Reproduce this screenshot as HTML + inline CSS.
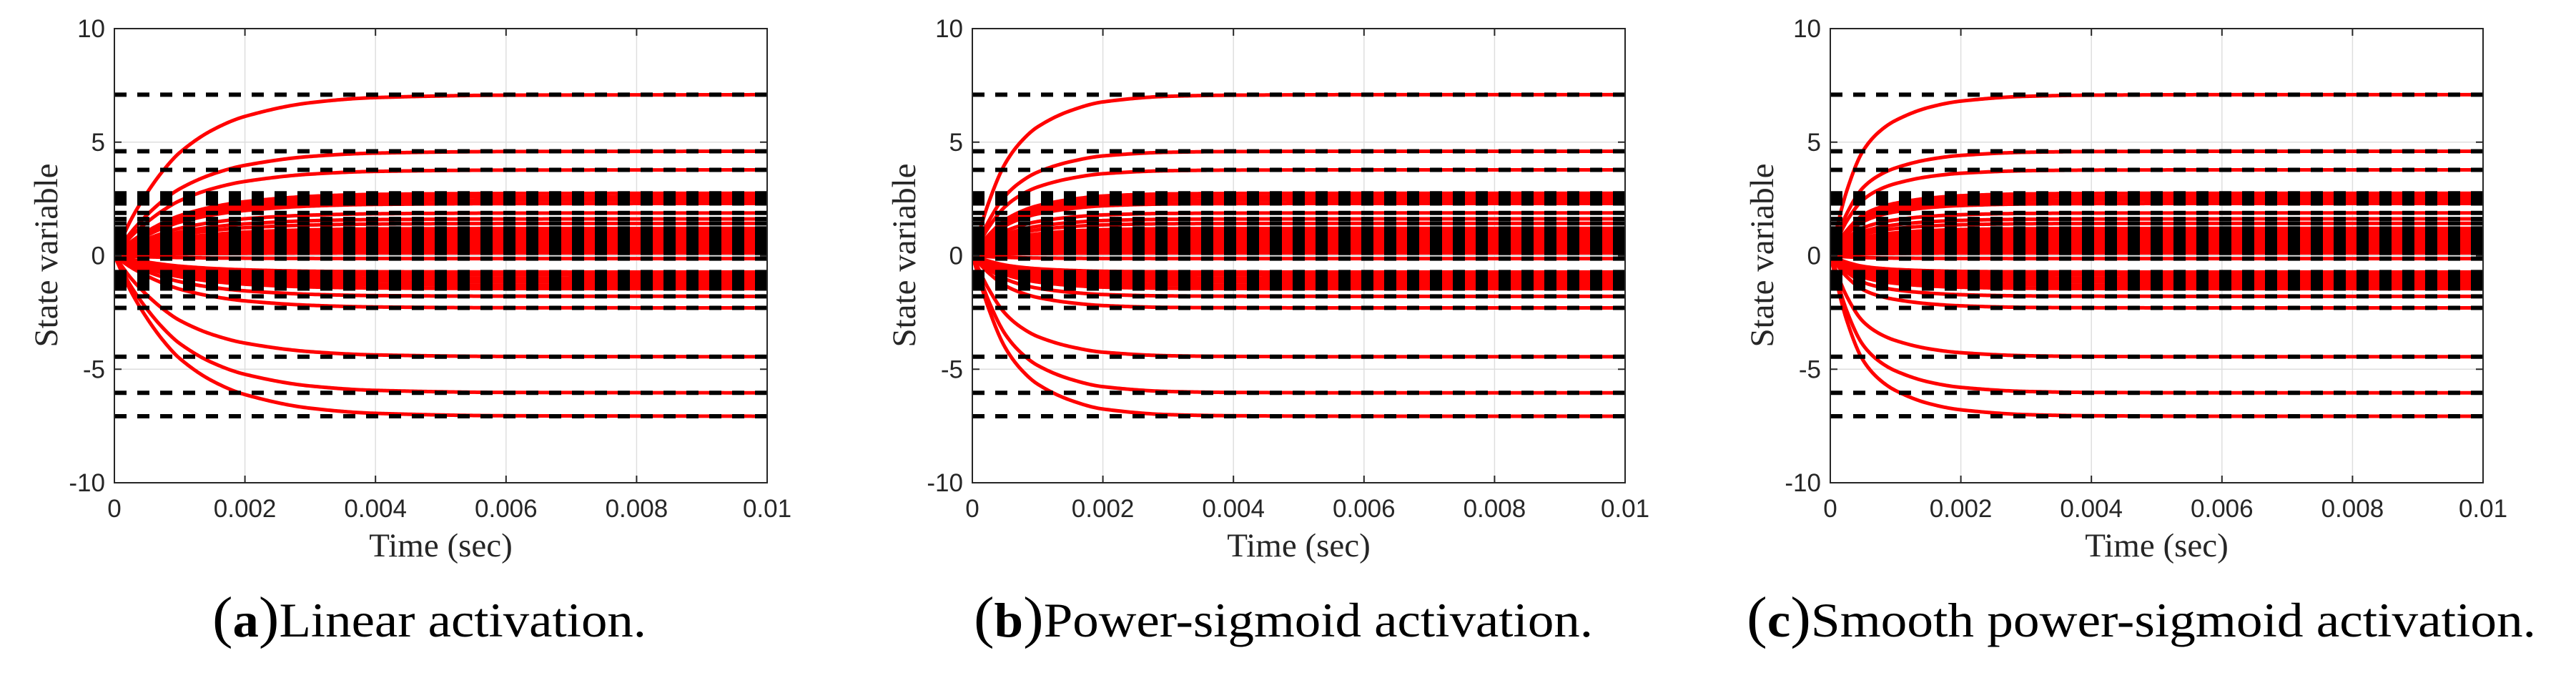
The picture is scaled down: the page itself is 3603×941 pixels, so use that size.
<!DOCTYPE html>
<html><head><meta charset="utf-8"><style>
html,body{margin:0;padding:0;background:#fff;}
svg{display:block;}
text{font-family:"Liberation Sans",sans-serif;}
.serif{font-family:"Liberation Serif",serif;}
</style></head><body>
<svg id="fig" width="3603" height="941" viewBox="0 0 3603 941" xmlns="http://www.w3.org/2000/svg"></svg>
<script>
const xTicks = [0, 0.002, 0.004, 0.006, 0.008, 0.01];
const xTickLabels = ["0", "0.002", "0.004", "0.006", "0.008", "0.01"];
const yTicks = [-10, -5, 0, 5, 10];
const yTickLabels = ["-10", "-5", "0", "5", "10"];
const equilibria = [7.09, 4.6, 3.78, 2.75, 2.6, 2.45, 2.3, 1.88, 1.62, 1.42, 1.2, 1.1, 1.0, 0.9, 0.8, 0.7, 0.6, 0.5, 0.4, 0.3, 0.2, 0.12, -0.13, -0.72, -0.85, -1.0, -1.15, -1.3, -1.45, -1.79, -2.3, -4.45, -6.04, -7.07];
const timeSamples = [0, 0.00025, 0.0005, 0.00075, 0.001, 0.0015, 0.002, 0.003, 0.004, 0.006, 0.01];
const fracLinear = [0, 0.22, 0.39, 0.53, 0.64, 0.78, 0.865, 0.95, 0.982, 0.997, 1.0];
const fracPower = [0, 0.33, 0.57, 0.71, 0.8, 0.9, 0.955, 0.99, 0.997, 1.0, 1.0];
const fracSmooth = [0, 0.4, 0.65, 0.77, 0.84, 0.92, 0.96, 0.99, 0.997, 1.0, 1.0];

const NS = "http://www.w3.org/2000/svg";
const svg = document.getElementById('fig');
function mk(tag, attrs, parent) {
  const e = document.createElementNS(NS, tag);
  for (const k in attrs) e.setAttribute(k, attrs[k]);
  (parent || svg).appendChild(e);
  return e;
}
// monotone cubic (Fritsch–Carlson) interpolation
function monotone(xsArr, ysArr) {
  const n = xsArr.length, d = [], m = new Array(n);
  for (let i = 0; i < n - 1; i++) d.push((ysArr[i + 1] - ysArr[i]) / (xsArr[i + 1] - xsArr[i]));
  m[0] = d[0]; m[n - 1] = d[n - 2];
  for (let i = 1; i < n - 1; i++) m[i] = (d[i - 1] * d[i] <= 0) ? 0 : 2 / (1 / d[i - 1] + 1 / d[i]);
  return function (x) {
    let i = 0;
    while (i < n - 2 && x > xsArr[i + 1]) i++;
    const h = xsArr[i + 1] - xsArr[i], s = (x - xsArr[i]) / h;
    const h00 = 2*s*s*s - 3*s*s + 1, h10 = s*s*s - 2*s*s + s, h01 = -2*s*s*s + 3*s*s, h11 = s*s*s - s*s;
    return h00 * ysArr[i] + h10 * h * m[i] + h01 * ysArr[i + 1] + h11 * h * m[i + 1];
  };
}
const panels = [
  {left:160, frac:fracLinear, id:'a', label:'Linear activation.', cx0:297, cx1:904},
  {left:1360, frac:fracPower, id:'b', label:'Power-sigmoid activation.', cx0:1362, cx1:2228},
  {left:2560, frac:fracSmooth, id:'c', label:'Smooth power-sigmoid activation.', cx0:2443, cx1:3547}
];
const W = 913, TOP = 40, BOT = 675;
const defs = mk('defs', {});
panels.forEach(p => {
  const L = p.left, R = L + W;
  const xs = t => L + (t / 0.01) * W;
  const ys = v => BOT - (v + 10) / 20 * (BOT - TOP);
  const f = monotone(timeSamples, p.frac);
  const g = mk('g', {});
  
  
  const cp = mk('clipPath', {id: 'clip' + p.id}, defs);
  mk('rect', {x: L, y: TOP, width: W, height: BOT - TOP}, cp);
  xTicks.forEach(t => {
    const l = mk('line', {x1: xs(t), x2: xs(t), y1: TOP, y2: BOT, stroke: '#dedede', 'stroke-width': 1.5}, g);
    
    
  });
  yTicks.forEach(v => {
    const l = mk('line', {x1: L, x2: R, y1: ys(v), y2: ys(v), stroke: '#dedede', 'stroke-width': 1.5}, g);
    
    
  });
  const plot = mk('g', {'clip-path': 'url(#clip' + p.id + ')'}, g);
  equilibria.forEach(v => {
    let d = '';
    for (let k = 0; k <= 400; k++) {
      const t = 0.01 * k / 400;
      d += (k ? 'L' : 'M') + xs(t).toFixed(2) + ',' + ys(v * f(t)).toFixed(2);
    }
    const path = mk('path', {d: d, fill: 'none', stroke: '#ff0000', 'stroke-width': 5, 'stroke-linejoin': 'round'}, plot);
    
    
  });
  equilibria.forEach(v => {
    const l = mk('line', {x1: L, x2: R, y1: ys(v), y2: ys(v), stroke: '#000', 'stroke-width': 6, 'stroke-dasharray': '17 15'}, plot);
    
    
  });
  const box = mk('rect', {x: L, y: TOP, width: W, height: BOT - TOP, fill: 'none', stroke: '#262626', 'stroke-width': 2}, g);
  
  
  xTicks.forEach((t, i) => {
    mk('line', {x1: xs(t), x2: xs(t), y1: BOT, y2: BOT - 10, stroke: '#262626', 'stroke-width': 2}, g);
    mk('line', {x1: xs(t), x2: xs(t), y1: TOP, y2: TOP + 10, stroke: '#262626', 'stroke-width': 2}, g);
    const tx = mk('text', {x: xs(t), y: 723, 'text-anchor': 'middle', 'font-size': 35, fill: '#262626'}, g);
    tx.textContent = xTickLabels[i];
    
    
  });
  yTicks.forEach((v, i) => {
    mk('line', {x1: L, x2: L + 10, y1: ys(v), y2: ys(v), stroke: '#262626', 'stroke-width': 2}, g);
    mk('line', {x1: R, x2: R - 10, y1: ys(v), y2: ys(v), stroke: '#262626', 'stroke-width': 2}, g);
    const tx = mk('text', {x: L - 13, y: ys(v) + 12, 'text-anchor': 'end', 'font-size': 35, fill: '#262626'}, g);
    tx.textContent = yTickLabels[i];
    
    
  });
  const yl = mk('text', {x: 0, y: 0, transform: 'translate(' + (L - 80) + ',357) rotate(-90)', 'text-anchor': 'middle', 'font-size': 47, fill: '#262626', class: 'serif'}, g);
  yl.textContent = 'State variable';
  
  
  const xl = mk('text', {x: L + W / 2, y: 778, 'text-anchor': 'middle', 'font-size': 47, fill: '#262626', class: 'serif'}, g);
  xl.textContent = 'Time (sec)';
  
  
  const cap = mk('text', {x: p.cx0, y: 890, 'font-size': 68, fill: '#000', class: 'serif', textLength: p.cx1 - p.cx0, lengthAdjust: 'spacingAndGlyphs'}, g);
  
  
  const t1 = mk('tspan', {'font-size': 80}, cap); t1.textContent = '(';
  const t2 = mk('tspan', {'font-weight': 'bold'}, cap); t2.textContent = p.id;
  const t3 = mk('tspan', {'font-size': 80}, cap); t3.textContent = ')';
  const t4 = mk('tspan', {}, cap); t4.textContent = p.label;
});
</script>
</body></html>
